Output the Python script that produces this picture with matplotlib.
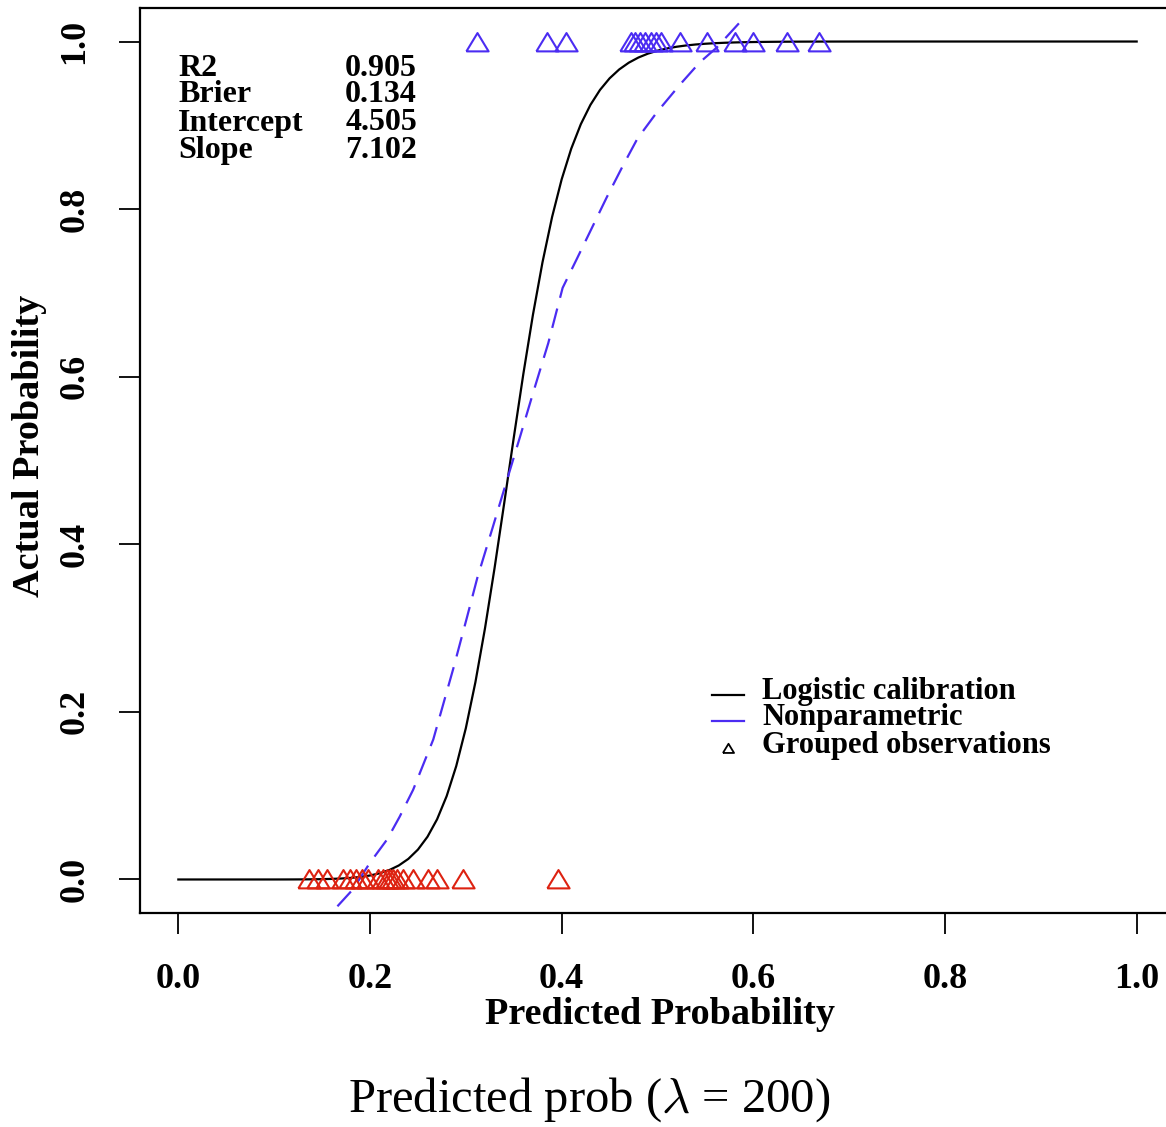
import numpy as np
import matplotlib
matplotlib.use('Agg')
import matplotlib.pyplot as plt
from matplotlib.lines import Line2D

# ---------------- data ----------------
stat_names = ["R2", "Brier", "Intercept", "Slope"]
stat_values = ["0.905", "0.134", "4.505", "7.102"]
cal_intercept = 4.505
cal_slope = 7.102

# grouped observations (predicted prob) with outcome 1 and 0
pred_pos = [0.312, 0.385, 0.404, 0.472, 0.477, 0.482, 0.487, 0.493, 0.498,
            0.504, 0.523, 0.552, 0.581, 0.600, 0.635, 0.669]
pred_neg = [0.136, 0.146, 0.155, 0.172, 0.179, 0.185, 0.192, 0.198, 0.208,
            0.214, 0.218, 0.221, 0.224, 0.228, 0.234, 0.245, 0.260, 0.270,
            0.297, 0.396]

# nonparametric (lowess) curve
np_x = [0.166, 0.182, 0.200, 0.218, 0.231, 0.245, 0.266, 0.287, 0.301,
        0.312, 0.328, 0.343, 0.357, 0.370, 0.386, 0.401, 0.416, 0.433,
        0.447, 0.464, 0.479, 0.499, 0.523, 0.544, 0.562, 0.586]
np_y = [-0.032, -0.012, 0.020, 0.048, 0.075, 0.107, 0.167, 0.252, 0.312,
        0.360, 0.420, 0.477, 0.530, 0.580, 0.640, 0.706, 0.741, 0.781,
        0.814, 0.852, 0.884, 0.915, 0.948, 0.975, 0.993, 1.023]

x_ticks = [0.0, 0.2, 0.4, 0.6, 0.8, 1.0]
y_ticks = [0.0, 0.2, 0.4, 0.6, 0.8, 1.0]

# logistic calibration curve from the fitted intercept/slope
cal_x = np.linspace(0, 1, 101)
with np.errstate(divide='ignore'):
    lt = cal_intercept + cal_slope * np.log(cal_x / (1 - cal_x))
cal_y = 1 / (1 + np.exp(-lt))

# ---------------- style ----------------
BLUE = '#4B2CF2'
RED = '#DD2211'
FONT = 'Liberation Serif'
plt.rcParams['font.family'] = [FONT, 'DejaVu Serif']
plt.rcParams['mathtext.fontset'] = 'cm'

W, H = 1166, 1127
fig = plt.figure(figsize=(W / 100, H / 100), dpi=100)
ax = fig.add_axes([140 / W, (H - 913) / H, (1175 - 140) / W, (913 - 8) / H])
ax.set_xlim(-0.04, 1.04)
ax.set_ylim(-0.04, 1.04)
for s in ax.spines.values():
    s.set_linewidth(1.6)

tri = [(-1, -0.8), (1, -0.8), (0, 0.85), (-1, -0.8)]

ax.plot(cal_x, cal_y, color='black', lw=1.6, zorder=3)
ax.plot(np_x, np_y, color=BLUE, lw=1.6, dashes=(9, 5), zorder=3)
ax.plot(pred_pos, [1.0] * len(pred_pos), linestyle='none', marker=tri,
        markersize=16, markerfacecolor='none', markeredgecolor=BLUE,
        markeredgewidth=1.5, zorder=4)
ax.plot(pred_neg, [0.0] * len(pred_neg), linestyle='none', marker=tri,
        markersize=16, markerfacecolor='none', markeredgecolor=RED,
        markeredgewidth=1.5, zorder=4)

ax.set_xticks(x_ticks)
ax.set_xticklabels([f"{v:.1f}" for v in x_ticks], fontsize=26, fontweight='bold')
ax.set_yticks(y_ticks)
ax.set_yticklabels([f"{v:.1f}" for v in y_ticks], fontsize=26, fontweight='bold',
                   rotation=90, va='center')
ax.tick_params(axis='both', direction='out', length=15, width=1.3)
ax.tick_params(axis='x', pad=21)
ax.tick_params(axis='y', pad=20)

fig.text(660 / W, 1 - 1015 / H, "Predicted Probability", ha='center', va='center',
         fontsize=27.5, fontweight='bold')
fig.text(30 / W, 1 - 446 / H, "Actual Probability", ha='center', va='center',
         rotation=90, fontsize=27.5, fontweight='bold')

# stats block
row_y = [68, 95, 123, 150]
for name, val, yy in zip(stat_names, stat_values, row_y):
    fig.text(178 / W, 1 - yy / H, name, ha='left', va='center', fontsize=23,
             fontweight='bold')
    fig.text(417 / W, 1 - yy / H, val, ha='right', va='center', fontsize=23,
             fontweight='bold')

# legend (manual, R style)
leg_labels = ["Logistic calibration", "Nonparametric", "Grouped observations"]
leg_y = [692, 718, 746]
fig.add_artist(Line2D([712 / W, 744 / W], [1 - 695 / H] * 2, color='black', lw=1.6,
                      transform=fig.transFigure))
fig.add_artist(Line2D([712 / W, 744 / W], [1 - 721 / H] * 2, color=BLUE, lw=1.6,
                      transform=fig.transFigure))
fig.add_artist(Line2D([728 / W], [1 - 748 / H], marker=tri, markersize=8,
                      markerfacecolor='none', markeredgecolor='black',
                      markeredgewidth=1.3, transform=fig.transFigure))
for lab, yy in zip(leg_labels, leg_y):
    fig.text(762 / W, 1 - yy / H, lab, ha='left', va='center', fontsize=22,
             fontweight='bold')

fig.text(589 / W, 1 - 1100 / H, r"Predicted prob ($\lambda$ = 200)", ha='center',
         va='center', fontsize=35)

fig.savefig('out.png', dpi=100)
